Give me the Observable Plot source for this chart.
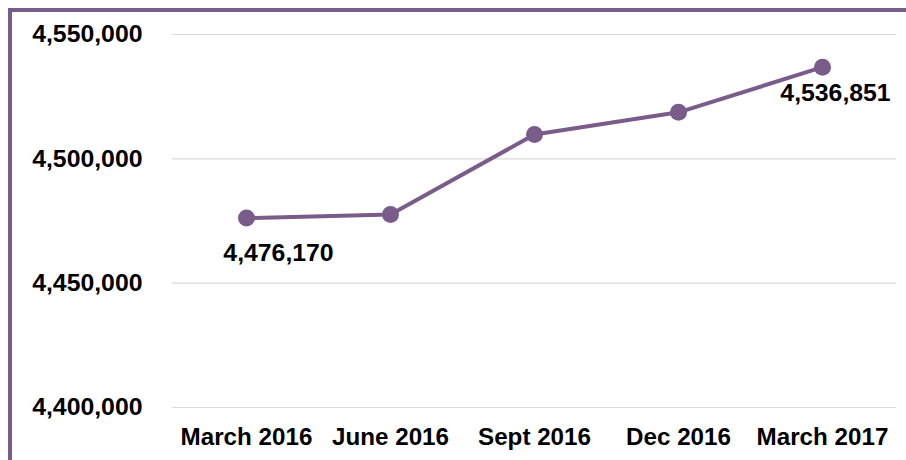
<!DOCTYPE html>
<html>
<head>
<meta charset="utf-8">
<script src="https://cdn.jsdelivr.net/npm/d3@7"></script>
<script src="https://cdn.jsdelivr.net/npm/@observablehq/plot@0.6"></script>
<style>
  html, body { margin: 0; padding: 0; background: #fff; }
  #wrap { position: relative; width: 906px; height: 460px; overflow: hidden; }
  #frame { position: absolute; left: 8px; top: 8px; right: 0; bottom: 0;
           border-top: 4px solid #7a5c8a; border-left: 4px solid #7a5c8a; pointer-events: none; }
</style>
</head>
<body>
<div id="wrap"><div id="frame"></div></div>
<script>
const periods = ["March 2016", "June 2016", "Sept 2016", "Dec 2016", "March 2017"];
const values = [4476170, 4477600, 4509800, 4518700, 4536851];
const yTicks = [4400000, 4450000, 4500000, 4550000];
const labelledFirst = [0];
const labelledLast = [4];

const data = periods.map((p, i) => ({period: p, value: values[i]}));
const fmt = d3.format(",");
const purple = "#7a5c8a";

const chart = Plot.plot({
  width: 906,
  height: 460,
  marginLeft: 172,
  marginRight: 10,
  marginTop: 34,
  marginBottom: 53,
  style: {fontFamily: "'Liberation Sans', Arial, sans-serif", fontSize: "24px", fontWeight: "bold", color: "#000", background: "transparent"},
  x: {type: "point", domain: periods, padding: 0.5, label: null},
  y: {domain: [4400000, 4550000], label: null},
  marks: [
    Plot.ruleY(yTicks, {stroke: "#d9d9d9", strokeWidth: 1.2}),
    Plot.axisY({ticks: yTicks, tickSize: 0, tickPadding: 30, tickFormat: fmt, label: null, fontSize: 24.8, fontWeight: "bold"}),
    Plot.axisX({tickSize: 0, tickPadding: 20, label: null, fontSize: 24.2, fontWeight: "bold"}),
    Plot.line(data, {x: "period", y: "value", stroke: purple, strokeWidth: 4}),
    Plot.dot(data, {x: "period", y: "value", r: 8.5, fill: purple, stroke: "none"}),
    Plot.text(labelledFirst.map(i => data[i]), {x: "period", y: "value", text: d => fmt(d.value), dx: 32, dy: 35, fontSize: 24.8, fontWeight: "bold", fill: "#000"}),
    Plot.text(labelledLast.map(i => data[i]), {x: "period", y: "value", text: d => fmt(d.value), dx: 13, dy: 26, fontSize: 24.8, fontWeight: "bold", fill: "#000"})
  ]
});
document.getElementById("wrap").prepend(chart);
chart.style.position = "absolute";
chart.style.left = "0";
chart.style.top = "0";
</script>
</body>
</html>
